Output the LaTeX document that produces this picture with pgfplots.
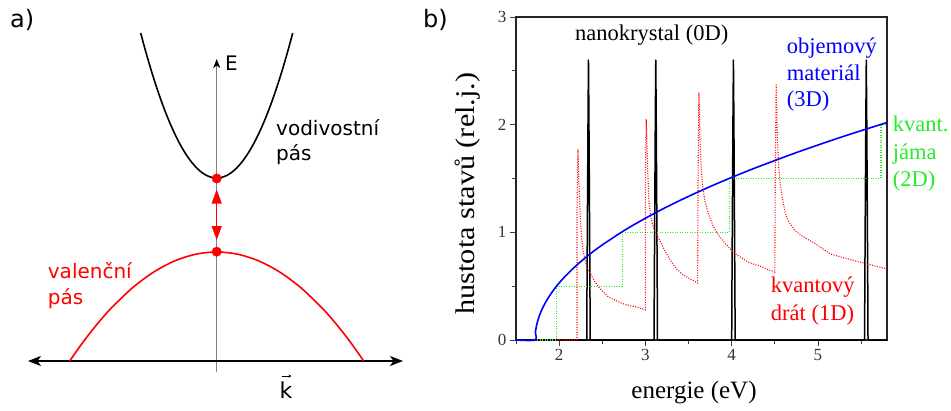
\documentclass[border=0pt]{standalone}
\usepackage{graphicx}
\usepackage{pgfplots}
\pgfplotsset{compat=1.18}
\usepackage{fontspec}
\setmainfont{Liberation Serif}
\newfontfamily\dejavu{DejaVu Sans}
\usetikzlibrary{arrows.meta}
\definecolor{myred}{RGB}{255,0,0}
\definecolor{mygreen}{RGB}{40,235,40}
\definecolor{myblue}{RGB}{0,0,255}
\begin{document}
\begin{tikzpicture}
\path[use as bounding box] (0,0) rectangle (951pt,410pt);
% ---------------- panel b ----------------
\begin{axis}[at={(516pt,70pt)}, anchor=south west, scale only axis,
  width=371pt, height=323pt,
  xmin=1.5, xmax=5.8, ymin=0, ymax=3,
  xtick={2,3,4,5}, ytick={0,1,2,3},
  minor xtick={1.5,2.5,3.5,4.5,5.5}, minor ytick={0.5,1.5,2.5},
  tick pos=left, tick align=outside,
  major tick length=6pt, minor tick length=4pt,
  axis line style={line width=1.1pt, black!85},
  every tick/.style={black!75, line width=0.9pt},
  ticklabel style={font=\fontsize{17}{17}\selectfont, text=black!80},
  /pgf/number format/assume math mode=true,
  clip=false]
% 0D nanocrystal
\addplot[black, line width=1.5pt, line join=round] coordinates {
(1.5,0) (2.32,0) (2.323,0.5) (2.327,1.04) (2.331,1.56) (2.335,2.08) (2.34,2.6) (2.345,2.08) (2.349,1.56) (2.353,1.04) (2.357,0.5) (2.36,0)
(3.10,0) (3.103,0.5) (3.107,1.04) (3.111,1.56) (3.115,2.08) (3.12,2.6) (3.125,2.08) (3.129,1.56) (3.133,1.04) (3.137,0.5) (3.14,0)
(4.00,0) (4.003,0.5) (4.007,1.04) (4.011,1.56) (4.015,2.08) (4.02,2.6) (4.025,2.08) (4.029,1.56) (4.033,1.04) (4.037,0.5) (4.04,0)
(5.54,0) (5.543,0.5) (5.547,1.04) (5.551,1.56) (5.555,2.08) (5.56,2.6) (5.565,2.08) (5.569,1.56) (5.573,1.04) (5.577,0.5) (5.58,0)
(5.8,0)};
% 2D quantum well
\addplot[mygreen, line width=1.1pt, dash pattern=on 1pt off 1.5pt] coordinates {
(1.72,0) (1.97,0) (1.97,0.5) (2.73,0.5) (2.73,1.0) (3.97,1.0) (3.97,1.5) (5.73,1.5) (5.73,2.0) (5.8,2.0)};
% 1D quantum wire
\addplot[myred, line width=1.1pt, dash pattern=on 1pt off 1.5pt] coordinates {
(1.97,0) (2.207,0) (2.207,1.2) (2.218,1.77) (2.232,1.4) (2.245,1.15) (2.26,0.95) (2.28,0.82) (2.30,0.74) (2.33,0.67) (2.36,0.62) (2.40,0.56) (2.46,0.49) (2.52,0.44) (2.57,0.40) (2.65,0.37) (2.73,0.34) (2.81,0.32) (2.88,0.31) (2.999,0.28)
(2.999,1.5) (3.01,2.05) (3.025,1.6) (3.04,1.3) (3.06,1.15) (3.09,1.05) (3.13,0.98) (3.17,0.92) (3.23,0.82) (3.29,0.74) (3.36,0.66) (3.43,0.61) (3.51,0.57) (3.605,0.53)
(3.61,1.5) (3.62,2.30) (3.633,1.85) (3.648,1.58) (3.665,1.42) (3.69,1.29) (3.73,1.17) (3.77,1.09) (3.81,1.02) (3.86,0.96) (3.92,0.90) (3.98,0.85) (4.04,0.80) (4.12,0.76) (4.19,0.725) (4.27,0.70) (4.35,0.68) (4.42,0.655) (4.50,0.63)
(4.505,1.5) (4.515,2.38) (4.528,1.92) (4.543,1.62) (4.56,1.47) (4.585,1.33) (4.62,1.18) (4.66,1.10) (4.73,1.02) (4.81,0.97) (4.89,0.93) (4.96,0.90) (5.05,0.85) (5.14,0.80) (5.27,0.77) (5.41,0.74) (5.6,0.70) (5.8,0.66)};
% 3D bulk
\addplot[myblue, line width=1.6pt, smooth] coordinates {
(1.5,0) (1.72,0) (1.725,0.071) (1.735,0.122) (1.75,0.173) (1.77,0.224) (1.8,0.283) (1.84,0.346) (1.89,0.412) (1.95,0.480) (2.02,0.548) (2.1,0.616) (2.2,0.693) (2.35,0.794) (2.5,0.883) (2.75,1.015) (3.0,1.131) (3.25,1.237) (3.5,1.334) (3.75,1.425) (4.0,1.510) (4.25,1.591) (4.5,1.667) (4.75,1.741) (5.0,1.811) (5.25,1.879) (5.5,1.944) (5.8,2.020)};
\end{axis}
% ---------------- overlay (panel a + labels), pixel coordinates ----------------
\begin{axis}[at={(0pt,0pt)}, anchor=south west, scale only axis,
  width=951pt, height=410pt, xmin=0, xmax=951, ymin=0, ymax=410,
  y dir=reverse, hide axis, clip=false]
\draw[black!50, line width=0.8pt, -{Stealth[black,length=9pt,width=7pt,inset=2.5pt]}] (axis cs:216.7,372) -- (axis cs:216.7,59);
\draw[black, line width=1.3pt, {Stealth[length=13pt,width=10pt,inset=3.5pt]}-{Stealth[length=13pt,width=10pt,inset=3.5pt]}] (axis cs:28,361) -- (axis cs:403,361);
\addplot[black, line width=1.6pt, smooth] coordinates {
(140.7,33.0) (143.7,44.24) (146.7,55.01) (151.7,71.95) (156.7,87.64) (161.7,102.07) (166.7,115.25) (171.7,127.17) (176.7,137.84) (181.7,147.25) (186.7,155.41) (191.7,162.31) (196.7,167.96) (201.7,172.35) (206.7,175.49) (211.7,177.37) (216.7,178.0)
(221.7,177.37) (226.7,175.49) (231.7,172.35) (236.7,167.96) (241.7,162.31) (246.7,155.41) (251.7,147.25) (256.7,137.84) (261.7,127.17) (266.7,115.25) (271.7,102.07) (276.7,87.64) (281.7,71.95) (286.7,55.01) (289.7,44.24) (292.7,33.0)};
\addplot[myred, line width=1.6pt, smooth] coordinates {
(69.7,361) (80.7,345.29) (90.7,332.08) (101.7,318.71) (111.7,307.61) (132.7,287.59) (153.7,272.02) (174.7,260.90) (195.7,254.22) (216.7,252)
(237.7,254.22) (258.7,260.90) (279.7,272.02) (300.7,287.59) (321.7,307.61) (331.7,318.71) (342.7,332.08) (352.7,345.29) (363.7,361)};
\draw[myred, line width=1.2pt, {Triangle[length=14pt,width=10pt]}-{Triangle[length=14pt,width=10pt]}] (axis cs:216.7,189.5) -- (axis cs:216.7,240);
\addplot[only marks, mark=*, mark size=4.7pt, myred] coordinates {(216.7,178.5) (216.7,251.7)};
% panel a labels
\node[anchor=base west, inner sep=0, font=\dejavu\fontsize{24}{28}\selectfont] at (axis cs:10,27) {a)};
\node[anchor=base west, inner sep=0, font=\dejavu\fontsize{24}{28}\selectfont] at (axis cs:423,27) {b)};
\node[anchor=base west, inner sep=0, font=\dejavu\fontsize{20}{24}\selectfont] at (axis cs:225,70) {E};
\node[anchor=base west, inner sep=0, font=\dejavu\fontsize{20}{24}\selectfont] at (axis cs:276,135) {vodivostní};
\node[anchor=base west, inner sep=0, font=\dejavu\fontsize{20}{24}\selectfont] at (axis cs:276,160.7) {pás};
\node[anchor=base west, inner sep=0, text=myred, font=\dejavu\fontsize{20}{24}\selectfont] at (axis cs:47.7,278.3) {valenční};
\node[anchor=base west, inner sep=0, text=myred, font=\dejavu\fontsize{20}{24}\selectfont] at (axis cs:47.7,304) {pás};
\node[anchor=base, inner sep=0, font=\dejavu\fontsize{22}{26}\selectfont] at (axis cs:286,398) {k};
\draw[black, line width=0.6pt, -{Stealth[length=3pt,width=3pt]}] (axis cs:281.5,376) -- (axis cs:291.5,376);
% panel b labels
\node[anchor=base, inner sep=0, font=\fontsize{22.5}{27}\selectfont] at (axis cs:651.7,40.7) {nanokrystal (0D)};
\node[anchor=base west, inner sep=0, text=myblue, font=\fontsize{22.5}{27}\selectfont] at (axis cs:786.7,53.3) {objemový};
\node[anchor=base west, inner sep=0, text=myblue, font=\fontsize{22.5}{27}\selectfont] at (axis cs:786.7,80) {materiál};
\node[anchor=base west, inner sep=0, text=myblue, font=\fontsize{22.5}{27}\selectfont] at (axis cs:786.7,106.7) {(3D)};
\node[anchor=base west, inner sep=0, text=mygreen, font=\fontsize{22.5}{27}\selectfont] at (axis cs:892.7,131.7) {kvant.};
\node[anchor=base west, inner sep=0, text=mygreen, font=\fontsize{22.5}{27}\selectfont] at (axis cs:892.7,159) {jáma};
\node[anchor=base west, inner sep=0, text=mygreen, font=\fontsize{22.5}{27}\selectfont] at (axis cs:892.7,186.7) {(2D)};
\node[anchor=base west, inner sep=0, text=myred, font=\fontsize{22.5}{27}\selectfont] at (axis cs:770.7,292.7) {kvantový};
\node[anchor=base west, inner sep=0, text=myred, font=\fontsize{22.5}{27}\selectfont] at (axis cs:770.7,320) {drát (1D)};
\node[anchor=base, inner sep=0, font=\fontsize{25}{30}\selectfont] at (axis cs:694,398) {energie (eV)};
\node[anchor=center, inner sep=0, rotate=90, font=\fontsize{27}{32}\selectfont] at (axis cs:468,193.5) {\scalebox{1.12}[1]{hustota stavů (rel.j.)}};
\end{axis}
\end{tikzpicture}
\end{document}
